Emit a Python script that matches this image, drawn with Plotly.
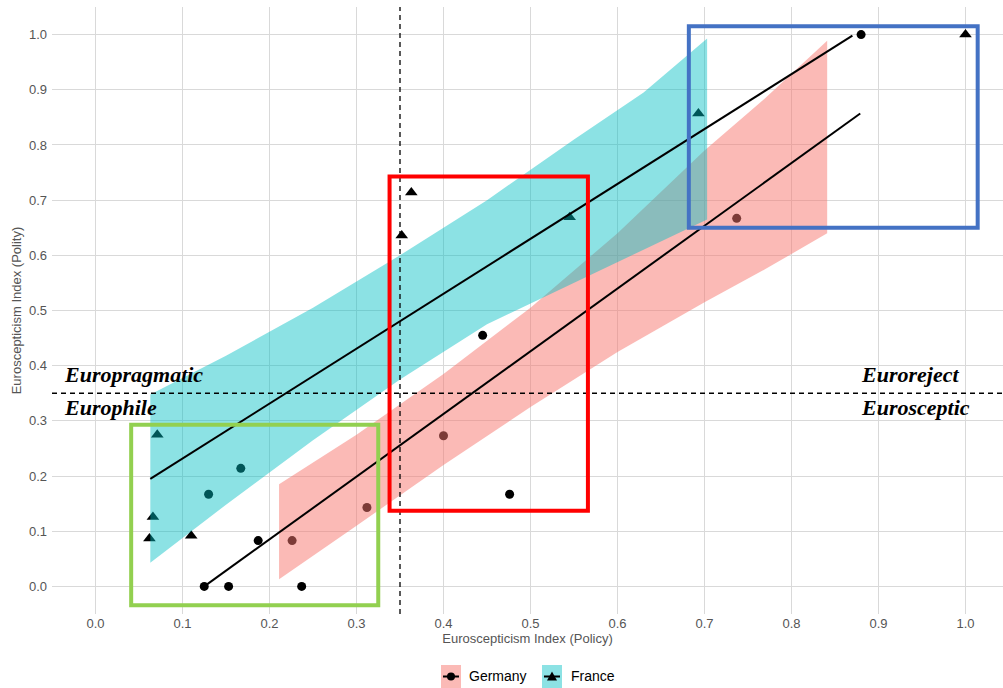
import plotly.graph_objects as go

# --- Observations -----------------------------------------------------------
germany_x = [0.125, 0.153, 0.237, 0.187, 0.226, 0.312, 0.130, 0.167, 0.400, 0.445, 0.476, 0.737, 0.880]
germany_y = [0.000, 0.000, 0.000, 0.083, 0.083, 0.143, 0.167, 0.214, 0.273, 0.455, 0.167, 0.667, 1.000]

france_x = [0.062, 0.066, 0.071, 0.110, 0.352, 0.363, 0.545, 0.693, 1.000]
france_y = [0.087, 0.126, 0.275, 0.092, 0.636, 0.714, 0.669, 0.857, 1.000]

# --- Fitted lines -----------------------------------------------------------
germany_fit_x = [0.125, 0.879]
germany_fit_y = [0.000, 0.857]
france_fit_x = [0.063, 0.870]
france_fit_y = [0.195, 0.998]

# --- Confidence bands -------------------------------------------------------
germany_band_x = [0.211, 0.300, 0.400, 0.500, 0.600, 0.700, 0.770, 0.841]
germany_band_hi = [0.185, 0.275, 0.385, 0.505, 0.640, 0.790, 0.885, 0.989]
germany_band_lo = [0.013, 0.110, 0.220, 0.325, 0.425, 0.515, 0.575, 0.640]

france_band_x = [0.063, 0.150, 0.250, 0.350, 0.450, 0.550, 0.630, 0.703]
france_band_hi = [0.348, 0.418, 0.505, 0.600, 0.700, 0.810, 0.895, 0.993]
france_band_lo = [0.043, 0.148, 0.265, 0.375, 0.475, 0.550, 0.610, 0.665]

THRESHOLD_POLICY = 0.35
THRESHOLD_POLITY = 0.35

x_ticks = [0.0, 0.1, 0.2, 0.3, 0.4, 0.5, 0.6, 0.7, 0.8, 0.9, 1.0]
y_ticks = [0.0, 0.1, 0.2, 0.3, 0.4, 0.5, 0.6, 0.7, 0.8, 0.9, 1.0]

quadrant_labels = [
    ("Europragmatic", -0.039, 0.384),
    ("Europhile", -0.039, 0.324),
    ("Euroreject", 0.878, 0.384),
    ("Eurosceptic", 0.878, 0.324),
]

PINK = "rgba(248,118,109,0.5)"
TEAL = "rgba(0,191,196,0.45)"

fig = go.Figure()

# points first so the bands tint the ones they cover
fig.add_trace(go.Scatter(x=germany_x, y=germany_y, mode="markers",
                         marker=dict(symbol="circle", size=9, color="black"),
                         showlegend=False, name="Germany"))
fig.add_trace(go.Scatter(x=france_x, y=france_y, mode="markers",
                         marker=dict(symbol="triangle-up", size=11, color="black"),
                         showlegend=False, name="France"))


def band(xs, hi, lo, color):
    return go.Scatter(x=xs + xs[::-1], y=hi + lo[::-1], fill="toself",
                      fillcolor=color, line=dict(width=0),
                      mode="lines", hoverinfo="skip", showlegend=False)


fig.add_trace(band(germany_band_x, germany_band_hi, germany_band_lo, PINK))
fig.add_trace(band(france_band_x, france_band_hi, france_band_lo, TEAL))

fig.add_trace(go.Scatter(x=germany_fit_x, y=germany_fit_y, mode="lines",
                         line=dict(color="black", width=2), showlegend=False))
fig.add_trace(go.Scatter(x=france_fit_x, y=france_fit_y, mode="lines",
                         line=dict(color="black", width=2), showlegend=False))

shapes = [
    dict(type="line", xref="x", yref="paper", x0=THRESHOLD_POLICY, x1=THRESHOLD_POLICY,
         y0=0, y1=1, line=dict(color="black", width=1.3, dash="5px,4px")),
    dict(type="line", xref="paper", yref="y", x0=0, x1=1,
         y0=THRESHOLD_POLITY, y1=THRESHOLD_POLITY,
         line=dict(color="black", width=1.3, dash="5px,4px")),
    # highlighted groups
    dict(type="rect", xref="x", yref="y", x0=0.041, x1=0.325, y0=-0.034, y1=0.293,
         line=dict(color="#92D050", width=4)),
    dict(type="rect", xref="x", yref="y", x0=0.338, x1=0.566, y0=0.137, y1=0.743,
         line=dict(color="#FF0000", width=4)),
    dict(type="rect", xref="x", yref="y", x0=0.682, x1=1.014, y0=0.650, y1=1.015,
         line=dict(color="#4472C4", width=4)),
]

# plot-area geometry (pixels) used to place the key below the panel
L, T, W, H = 52, 7, 951, 607


def px(xp):
    return (xp - L) / W


def py(yp):
    return (T + H - yp) / H


key_y = 676.5
for left, fill, marker in [(441, PINK, "circle"), (542, TEAL, "triangle")]:
    shapes.append(dict(type="rect", xref="paper", yref="paper", layer="above",
                       x0=px(left), x1=px(left + 20), y0=py(688), y1=py(665),
                       fillcolor=fill, line=dict(width=0)))
    shapes.append(dict(type="line", xref="paper", yref="paper", layer="above",
                       x0=px(left + 2), x1=px(left + 18), y0=py(key_y), y1=py(key_y),
                       line=dict(color="black", width=2)))
    if marker == "circle":
        shapes.append(dict(type="circle", xref="paper", yref="paper", layer="above",
                           xsizemode="pixel", ysizemode="pixel",
                           xanchor=px(left + 10), yanchor=py(key_y),
                           x0=-4, x1=4, y0=-4, y1=4,
                           fillcolor="black", line=dict(width=0)))
    else:
        shapes.append(dict(type="path", xref="paper", yref="paper", layer="above",
                           xsizemode="pixel", ysizemode="pixel",
                           xanchor=px(left + 10), yanchor=py(key_y),
                           path="M-5,-4 L5,-4 L0,5 Z",
                           fillcolor="black", line=dict(width=0)))

annotations = []
for text, ax, ay in quadrant_labels:
    annotations.append(dict(text=text, x=ax, y=ay, xref="x", yref="y",
                            xanchor="left", yanchor="middle", showarrow=False,
                            font=dict(family="Liberation Serif", size=22, color="black",
                                      weight="bold", style="italic")))
for text, left in [("Germany", 467), ("France", 569)]:
    annotations.append(dict(text=text, x=px(left), y=py(key_y), xref="paper", yref="paper",
                            xanchor="left", yanchor="middle", showarrow=False,
                            font=dict(family="Liberation Sans", size=14, color="black")))

axis_common = dict(showline=False, zeroline=False, ticks="",
                   showgrid=True, gridcolor="#d9d9d9", gridwidth=1,
                   tickfont=dict(family="Liberation Sans", size=13, color="#555555"),
                   title_font=dict(family="Liberation Sans", size=13, color="#555555"))

fig.update_layout(
    width=1003, height=688, autosize=False,
    margin=dict(l=L, r=1003 - L - W, t=T, b=688 - T - H, pad=0),
    paper_bgcolor="white", plot_bgcolor="white",
    xaxis=dict(range=[-0.05, -0.05 + W / 870], tickvals=x_ticks,
               ticktext=[f"{v:.1f}" for v in x_ticks],
               title=dict(text="Euroscepticism Index (Policy)", standoff=2),
               **axis_common),
    yaxis=dict(range=[-0.05, 1.05], tickvals=y_ticks,
               ticktext=[f"{v:.1f}" for v in y_ticks],
               title=dict(text="Euroscepticism Index (Polity)", standoff=4),
               ticklabelstandoff=4,
               **axis_common),
    shapes=shapes,
    annotations=annotations,
    showlegend=False,
)

fig.write_html("out.html")
